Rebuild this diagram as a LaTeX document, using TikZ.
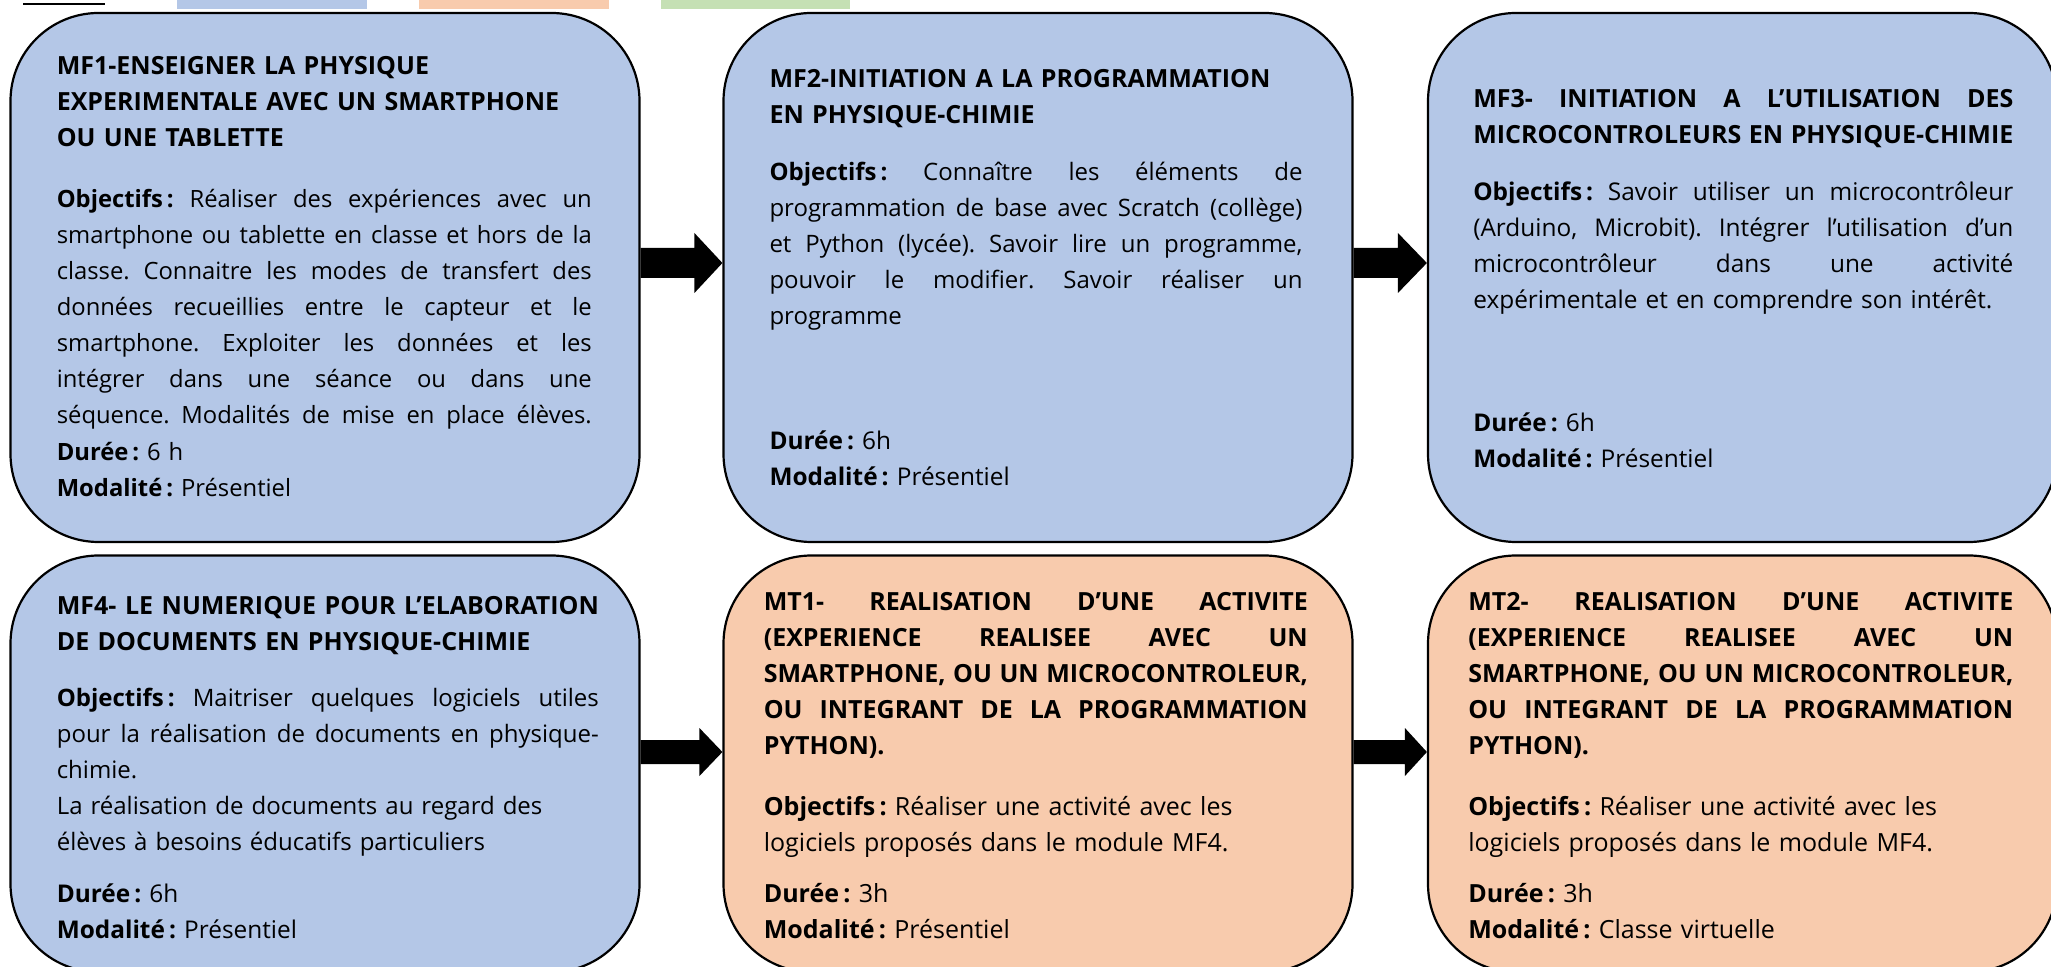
\documentclass[tikz,border=0pt]{standalone}
\usepackage{xcolor}
\usepackage{fontspec}
\setmainfont{Open Sans}[Ligatures=NoCommon]
\usepackage{tikz}
\usetikzlibrary{positioning,calc}

\definecolor{bleu}{HTML}{B4C7E7}
\definecolor{saumon}{HTML}{F8CBAD}
\definecolor{vert}{HTML}{C5E0B4}

\hbadness=10000
\hfuzz=20pt
\frenchspacing
\setlength{\parindent}{0pt}

% block arrow: from, to, tip offset, half shaft, half head, head length
\newcommand{\fleche}[6]{%
  \fill ($(#1.east)+(0,#3-#4)$) -- ($(#2.west)+(-#6,#3-#4)$) -- ($(#2.west)+(-#6,#3-#5)$)
    -- ($(#2.west)+(0,#3)$) -- ($(#2.west)+(-#6,#3+#5)$) -- ($(#2.west)+(-#6,#3+#4)$)
    -- ($(#1.east)+(0,#3+#4)$) -- cycle;}
\newcommand{\obj}{\textbf{Objectifs\,:}}
% justified line
\newcommand{\larg}{100pt}
\newcommand{\J}[1]{\leavevmode\hbox to \larg{\spaceskip=0.26em plus 0.5em minus 0.08em #1}}

\begin{document}
\begin{tikzpicture}[
    x=0.5pt, y=-0.5pt,
    module/.style={rectangle, draw=black, line width=1.1pt, rounded corners=44pt, inner sep=0pt, minimum width=314.5pt},
    haut/.style={module, minimum height=264.5pt},
    bas/.style={module, minimum height=208.25pt},
    texte/.style 2 args={anchor=base west, inner sep=0pt, text width=#1, align=left, font=\fontsize{#2}{18}\selectfont\def\larg{#1}},
    titre/.style={anchor=base west, inner sep=0pt, text width=#1, align=left, font=\bfseries\fontsize{12.5}{17.9}\selectfont\def\larg{#1}}
]
\clip (0,0) rectangle (2051,967);

% legend strip (cut off)
\fill[bleu] (177,0) rectangle (367,8.6);
\fill[saumon] (419,0) rectangle (609,8.6);
\fill[vert] (661,0) rectangle (850,8.6);
\draw[line width=1pt] (23,4.5) -- (105,4.5);

% Modules de formation
\node[haut, fill=bleu] (mf1) at (325,277.5) {};
\node[haut, fill=bleu] (mf2) at (1038,277.5) {};
\node[haut, fill=bleu] (mf3) at (1742.5,277.5) {};

% Mises en oeuvre
\node[bas, fill=bleu] (mf4) at (325,763.75) {};
\node[bas, fill=saumon] (mt1) at (1038,763.75) {};
\node[bas, fill=saumon] (mt2) at (1742.5,763.75) {};

% MF1
\node[titre=267.5pt] (mf1t) at ($(mf1.north west)+(47,63)$) {MF1-ENSEIGNER LA PHYSIQUE\\ EXPERIMENTALE AVEC UN SMARTPHONE\\ OU UNE TABLETTE};
\node[texte={267.5pt}{11.9}] (mf1o) at ($(mf1.north west)+(47,196)$) {\J{\obj{} Réaliser des expériences avec un}\\ \J{smartphone ou tablette en classe et hors de la}\\ \J{classe. Connaitre les modes de transfert des}\\ \J{données recueillies entre le capteur et le}\\ \J{smartphone. Exploiter les données et les}\\ \J{intégrer dans une séance ou dans une}\\ \J{séquence. Modalités de mise en place élèves.}};
\node[texte={267.5pt}{11.9}] (mf1d) at ($(mf1.north west)+(47,449)$) {\textbf{Durée\,:} 6 h\\ \textbf{Modalité\,:} Présentiel};

% MF2
\node[titre=266.5pt] (mf2t) at ($(mf2.north west)+(46.7,76)$) {MF2-INITIATION A LA PROGRAMMATION\\ EN PHYSIQUE-CHIMIE};
\node[texte={266.5pt}{12}] (mf2o) at ($(mf2.north west)+(46.7,169)$) {\J{\obj{} Connaître les éléments de}\\ \J{programmation de base avec Scratch (collège)}\\ \J{et Python (lycée). Savoir lire un programme,}\\ \J{pouvoir le modifier. Savoir réaliser un}\\ programme};
\node[texte={266.5pt}{12.2}] (mf2d) at ($(mf2.north west)+(46.7,438)$) {\textbf{Durée\,:} 6h\\ \textbf{Modalité\,:} Présentiel};

% MF3
\node[titre=270pt] (mf3t) at ($(mf3.north west)+(46,95.5)$) {\J{MF3- INITIATION A L’UTILISATION DES}\\ \J{MICROCONTROLEURS EN PHYSIQUE-CHIMIE}};
\node[texte={270pt}{12.2}] (mf3o) at ($(mf3.north west)+(46,188.5)$) {\J{\obj{} Savoir utiliser un microcontrôleur}\\ \J{(Arduino, Microbit). Intégrer l’utilisation d’un}\\ \J{microcontrôleur dans une activité}\\ expérimentale et en comprendre son intérêt.};
\node[texte={270pt}{12.2}] (mf3d) at ($(mf3.north west)+(46,420)$) {\textbf{Durée\,:} 6h\\ \textbf{Modalité\,:} Présentiel};

% MF4
\node[titre=271pt] (mf4t) at ($(mf4.north west)+(47,60.5)$) {\J{MF4- LE NUMERIQUE POUR L’ELABORATION}\\ DE DOCUMENTS EN PHYSIQUE-CHIMIE};
\node[texte={271pt}{12}] (mf4o) at ($(mf4.north west)+(47,152)$) {\J{\obj{} Maitriser quelques logiciels utiles}\\ \J{pour la réalisation de documents en physique-}\\ chimie.\\ La réalisation de documents au regard des\\ élèves à besoins éducatifs particuliers};
\node[texte={271pt}{12.2}] (mf4d) at ($(mf4.north west)+(47,348.5)$) {\textbf{Durée\,:} 6h\\ \textbf{Modalité\,:} Présentiel};

% MT1
\node[titre=272pt] (mt1t) at ($(mt1.north west)+(41,56.5)$) {\J{MT1- REALISATION D’UNE ACTIVITE}\\ \J{(EXPERIENCE REALISEE AVEC UN}\\ \J{SMARTPHONE, OU UN MICROCONTROLEUR,}\\ \J{OU INTEGRANT DE LA PROGRAMMATION}\\ PYTHON).};
\node[texte={272pt}{12.5}] (mt1o) at ($(mt1.north west)+(41,261.5)$) {\obj{} Réaliser une activité avec les\\ logiciels proposés dans le module MF4.};
\node[texte={272pt}{12.5}] (mt1d) at ($(mt1.north west)+(41,348.5)$) {\textbf{Durée\,:} 3h\\ \textbf{Modalité\,:} Présentiel};

% MT2
\node[titre=272.5pt] (mt2t) at ($(mt2.north west)+(41,56.5)$) {\J{MT2- REALISATION D’UNE ACTIVITE}\\ \J{(EXPERIENCE REALISEE AVEC UN}\\ \J{SMARTPHONE, OU UN MICROCONTROLEUR,}\\ \J{OU INTEGRANT DE LA PROGRAMMATION}\\ PYTHON).};
\node[texte={272.5pt}{12.5}] (mt2o) at ($(mt2.north west)+(41,261.5)$) {\obj{} Réaliser une activité avec les\\ logiciels proposés dans le module MF4.};
\node[texte={272.5pt}{12.5}] (mt2d) at ($(mt2.north west)+(41,348.5)$) {\textbf{Durée\,:} 3h\\ \textbf{Modalité\,:} Classe virtuelle};

% Arrows
\fleche{mf1}{mf2}{-14.5}{15}{30}{28}
\fleche{mf2}{mf3}{-14.5}{15}{30}{29}
\fleche{mf4}{mt1}{-11.75}{12}{24}{23}
\fleche{mt1}{mt2}{-11.75}{12}{24}{22}

\end{tikzpicture}
\end{document}
